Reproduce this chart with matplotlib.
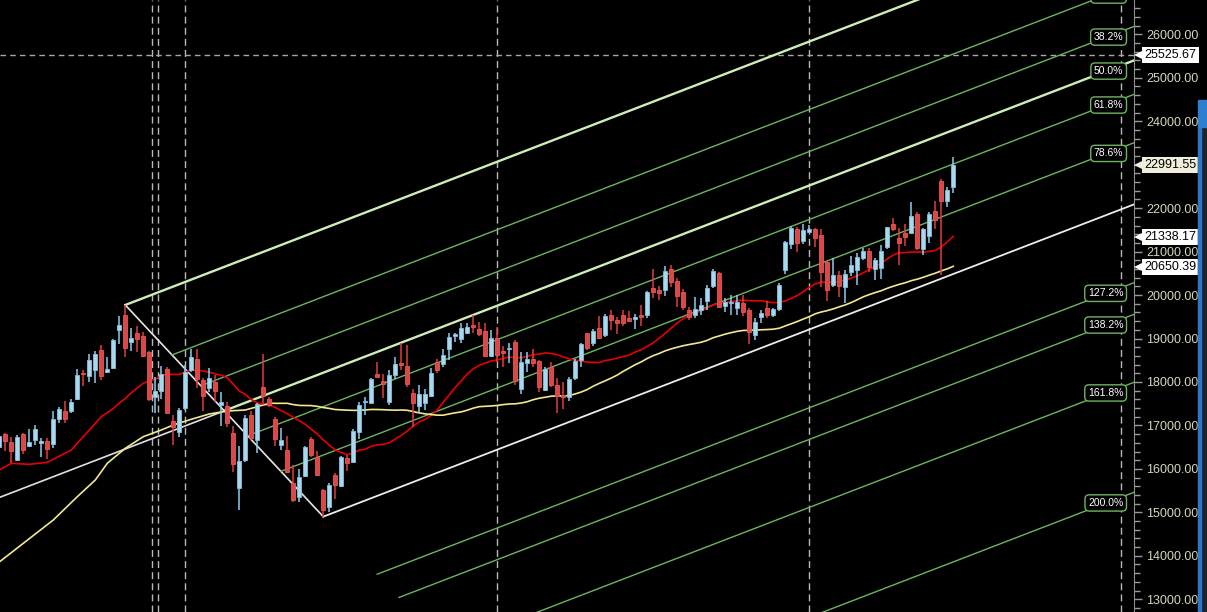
import numpy as np
import pandas as pd
import matplotlib.pyplot as plt
import matplotlib.transforms as mtrans
from matplotlib.ticker import MultipleLocator, FormatStrFormatter
from matplotlib.patches import Rectangle

plt.rcParams['font.family'] = ['Liberation Sans', 'DejaVu Sans']

# weekly OHLC (oldest first)
opens = [16496, 16803, 16611, 16204, 16803, 16527, 16665, 16603, 16642, 16573,
         17155, 17324, 17340, 17608, 18214, 18137, 18275, 18736, 18237, 18329,
         19196, 19541, 18927, 19134, 19058, 18697, 17662, 17800, 18299, 17110,
         16857, 17394, 18276, 18529, 18046, 17854, 18007, 17470, 17447, 16818,
         15568, 16205, 17240, 16665, 17892, 17601, 17148, 16550, 16434, 15667,
         15361, 15844, 16688, 16266, 15514, 15131, 15859, 15606, 16250, 16166,
         16856, 17531, 17524, 18183, 18022, 17547, 18160, 18436, 18367, 17738,
         17447, 17508, 17677, 18459, 18413, 18759, 19058, 18996, 19119, 19318,
         19219, 19165, 18605, 19004, 18712, 18751, 18912, 17846, 18444, 18528,
         18482, 17815, 18352, 17930, 17700, 17662, 18084, 18505, 19119, 18904,
         19250, 19081, 19541, 19419, 19541, 19472, 19449, 19541, 19541, 20162,
         20116, 20116, 20599, 20323, 20063, 19656, 19541, 19656, 19863, 20208,
         20515, 19756, 19809, 19710, 19809, 19656, 19081, 19503, 19694, 19541,
         19671, 20576, 21175, 21512, 21244, 21459, 21520, 21382, 20769, 20232,
         20462, 20193, 20538, 20577, 20861, 21014, 20592, 20631, 21114, 21635,
         21305, 21421, 21436, 21865, 21068, 21367, 21934, 22625, 22172, 22494]
highs = [16780, 16818, 16741, 16780, 16818, 16910, 17010, 16711, 16711, 17332,
         17416, 17562, 17616, 18291, 18275, 18643, 18720, 18851, 18567, 18996,
         19526, 19771, 19234, 19288, 19150, 18712, 18107, 18367, 18352, 17240,
         17394, 18391, 18751, 18751, 18084, 18314, 18161, 17777, 17547, 16987,
         16527, 17240, 17340, 17509, 18644, 17662, 17187, 16933, 16757, 16089,
         15990, 16534, 16741, 16412, 15529, 15667, 15898, 16296, 16320, 16910,
         17547, 17662, 18084, 18459, 18183, 18275, 18567, 18904, 18851, 17830,
         17930, 17838, 18314, 18521, 18751, 19119, 19134, 19349, 19349, 19541,
         19372, 19349, 19196, 19272, 18828, 18904, 18966, 18697, 18697, 18751,
         18505, 18352, 18467, 18084, 18007, 18122, 18536, 18904, 19134, 19211,
         19518, 19557, 19656, 19503, 19656, 19633, 19572, 19772, 20094, 20599,
         20208, 20668, 20692, 20385, 20139, 19733, 19963, 19940, 20231, 20599,
         20523, 19925, 20001, 20001, 20001, 19694, 19464, 19656, 19863, 19710,
         20270, 21244, 21589, 21574, 21627, 21612, 21540, 21520, 20790, 20845,
         20554, 20577, 20899, 20976, 21075, 21075, 20845, 21152, 21574, 21766,
         21536, 21635, 22149, 21904, 21536, 21919, 22165, 22671, 22479, 23185]
lows = [16473, 16419, 16128, 16190, 16342, 16511, 16550, 16281, 16235, 16488,
        17048, 17063, 17278, 17585, 17907, 18007, 17968, 18045, 18214, 18306,
        18874, 18582, 18712, 18697, 18567, 17570, 17294, 17600, 17279, 16550,
        16742, 17355, 18237, 17854, 17340, 17777, 17547, 16987, 16956, 15936,
        15054, 16166, 16665, 16374, 17470, 17432, 16527, 16434, 15898, 15246,
        15246, 15821, 16281, 15836, 14901, 15016, 15307, 15575, 15959, 16151,
        16680, 17240, 17508, 18107, 17623, 17470, 18061, 18275, 17876, 16971,
        17278, 17355, 17662, 18214, 18352, 18505, 18927, 18904, 19096, 19119,
        19058, 18582, 18567, 18467, 18352, 18444, 17930, 17715, 18237, 18352,
        17777, 17800, 17876, 17278, 17370, 17570, 18045, 18352, 18736, 18835,
        18989, 19043, 19196, 19104, 19296, 19373, 19219, 19296, 19465, 19925,
        19886, 19986, 20193, 19733, 19656, 19426, 19480, 19541, 19656, 20170,
        19710, 19618, 19541, 19541, 19526, 18874, 18966, 19365, 19480, 19487,
        19633, 20477, 21052, 20998, 21167, 21436, 21098, 20193, 19871, 20178,
        19963, 19825, 20439, 20232, 20807, 20538, 20347, 20362, 21052, 21474,
        20692, 21129, 21421, 21037, 20922, 21206, 21520, 20462, 22034, 22356]
closes = [16757, 16649, 16411, 16734, 16434, 16619, 16918, 16642, 16465, 17148,
          17378, 17148, 17539, 18160, 18176, 18505, 18636, 18145, 18298, 18966,
          19311, 18789, 19004, 18981, 18605, 17608, 17792, 18183, 17294, 16956,
          17355, 18237, 18567, 18061, 17685, 18084, 17800, 17539, 17048, 16105,
          16182, 17164, 16703, 17486, 17677, 17470, 16680, 16665, 15936, 15284,
          15821, 16511, 16320, 15859, 15054, 15629, 15629, 16281, 16128, 16872,
          17470, 17562, 18068, 18122, 17953, 18160, 18413, 18383, 17953, 17524,
          17723, 17723, 18199, 18275, 18620, 19027, 19081, 19242, 19272, 19272,
          19111, 18597, 19004, 18620, 18659, 18774, 18030, 18459, 18528, 18444,
          17876, 18291, 17930, 17677, 17662, 18068, 18490, 18874, 18774, 19165,
          19020, 19518, 19426, 19357, 19357, 19411, 19480, 19495, 20063, 20078,
          20055, 20553, 20308, 19986, 19733, 19503, 19671, 19771, 20155, 20553,
          19733, 19833, 19848, 19833, 19618, 19142, 19372, 19595, 19541, 19671,
          20231, 21213, 21535, 21205, 21497, 21520, 21305, 20538, 20117, 20462,
          20216, 20485, 20692, 20884, 21014, 20654, 20807, 21014, 21559, 21520,
          21190, 21344, 21819, 21091, 21520, 21858, 21727, 22172, 22418, 22992]

# moving-average values at the left edge (their history is off the chart)
red_early_idx = [0, 2, 5, 8, 12, 14, 17]
red_early_val = [15974, 16128, 16105, 16151, 16434, 16741, 17202]
yellow_early_idx = [0, 9, 13, 16, 18, 21, 24, 27, 29, 32, 35, 38, 41, 43, 45, 48]
yellow_early_val = [13858, 14824, 15360, 15744, 16129, 16474, 16741, 16895,
                    17010, 17141, 17263, 17332, 17355, 17431, 17509, 17509]

# fibonacci channel anchors (bar index, price)
anchor_idx = [21, 54, 189]
anchor_price = [19771, 14901, 22080]
fib_levels = [0, 0.236, 0.382, 0.5, 0.618, 0.786, 1.0, 1.272, 1.382, 1.618, 2.0]
fib_labels = ['0.0%', '23.6%', '38.2%', '50.0%', '61.8%', '78.6%', '100.0%',
              '127.2%', '138.2%', '161.8%', '200.0%']

vline_idx = [25.5, 26.5, 31, 83, 135, 187]   # dashed separators
hline_price = 25525.67
tag_values = [25525.67, 22991.55, 21338.17, 20650.39]
tag_colors = ['white', '#f2eedc', 'white', 'white']

o = np.array(opens, float)
h = np.array(highs, float)
l = np.array(lows, float)
c = np.array(closes, float)
n = len(c)
idx = np.arange(n)

x_lo, x_hi = 0.117, 189.12
y_lo, y_hi = 12707, 26789

fig = plt.figure(figsize=(12.07, 6.12), dpi=100, facecolor='black')
ax = fig.add_axes([0, 0, 1134 / 1207, 1])
ax.set_facecolor('black')
ax.set_xlim(x_lo, x_hi)
ax.set_ylim(y_lo, y_hi)

# separators
for v in vline_idx:
    ax.axvline(v, color='#b8b8b8', lw=1, ls=(0, (5, 3)), zorder=1)
ax.axhline(hline_price, color='#a8a8a8', lw=1, ls=(0, (4, 3)), zorder=1)

# fib channel
green = '#6db55e'
pale = '#cdeeb6'
slope = (anchor_price[2] - anchor_price[1]) / (anchor_idx[2] - anchor_idx[1])
ax.plot(anchor_idx[:2], anchor_price[:2], color='#e6e6e6', lw=1.2, zorder=2)
for f, lab in zip(fib_levels, fib_labels):
    xs = anchor_idx[0] + f * (anchor_idx[1] - anchor_idx[0])
    ys = anchor_price[0] + f * (anchor_price[1] - anchor_price[0])
    ye = ys + slope * (x_hi - xs)
    if f == 1.0:
        col, lw = '#ececec', 1.3
    elif f in (0, 0.5):
        col, lw = pale, 1.7
    else:
        col, lw = green, 1.0
    ax.plot([xs, x_hi], [ys, ye], color=col, lw=lw, zorder=2)
    if f == 0.5:
        ax.plot([x_lo, xs], [ys - slope * (xs - x_lo), ys], color='#e0e0e0',
                lw=1.2, zorder=2)
    if f not in (0, 1.0):
        ax.text(187.35, ye - 245, lab, color='white', fontsize=7.5,
                ha='right', va='center', zorder=8,
                bbox=dict(boxstyle='round,pad=0.3,rounding_size=0.4',
                          fc='black', ec=green, lw=1))

# moving averages
sma20 = pd.Series(c).rolling(20).mean().to_numpy()
sma50 = pd.Series(c).rolling(50).mean().to_numpy()
ax.plot(red_early_idx + list(idx[19:]), red_early_val + list(sma20[19:]),
        color='#e80000', lw=1.2, zorder=3)
ax.plot(yellow_early_idx + list(idx[49:]), yellow_early_val + list(sma50[49:]),
        color='#f3e88e', lw=1.2, zorder=3)

# candles
up = c >= o
blue_body, blue_edge, blue_wick = '#abd7ec', '#86c0de', '#8ccdf2'
red_body, red_edge, red_wick = '#d84848', '#ec5555', '#e63c3c'
wick_cols = np.where(up, blue_wick, red_wick)
ax.vlines(idx, l, h, colors=wick_cols, lw=1.1, zorder=4)
body_lo = np.minimum(o, c)
body_h = np.maximum(np.abs(c - o), 35)
ax.bar(idx[up], body_h[up], bottom=body_lo[up], width=0.62,
       color=blue_body, edgecolor=blue_edge, lw=0.6, zorder=5)
ax.bar(idx[~up], body_h[~up], bottom=body_lo[~up], width=0.62,
       color=red_body, edgecolor=red_edge, lw=0.6, zorder=5)

# price axis on the right
for s in ['left', 'top', 'bottom']:
    ax.spines[s].set_visible(False)
ax.spines['right'].set_color('#8e8e8e')
ax.set_xticks([])
ax.yaxis.tick_right()
ax.yaxis.set_major_locator(MultipleLocator(1000))
ax.yaxis.set_minor_locator(MultipleLocator(200))
ax.yaxis.set_major_formatter(FormatStrFormatter('%.2f'))
ax.tick_params(axis='y', which='major', direction='out', length=6, width=1,
               color='#9a9a9a', labelcolor='#d6d6bc', labelsize=9, pad=3)
ax.tick_params(axis='y', which='minor', direction='out', length=4, width=1,
               color='#9a9a9a')

# price tags: small pointer + box
tag_tr = mtrans.blended_transform_factory(ax.transAxes, ax.transData)
for val, col in zip(tag_values, tag_colors):
    ax.plot([1 + 4.5 / 1134], [val], marker='<', ms=7.5, mew=0, color=col,
            transform=tag_tr, clip_on=False, zorder=9)
    ax.annotate(f'{val:.2f}', xy=(1, val), xycoords=tag_tr,
                xytext=(7.4, 0), textcoords='offset points', ha='left',
                va='center', fontsize=9, color='black', annotation_clip=False,
                zorder=10,
                bbox=dict(boxstyle='square,pad=0.18', fc=col, ec='none'))

# scroll strip at the right edge
fig.patches.append(Rectangle((1198 / 1207, 0), 9 / 1207, 485 / 612,
                             transform=fig.transFigure, color='#1c2430'))
fig.patches.append(Rectangle((1198 / 1207, 0), 2.5 / 1207, 485 / 612,
                             transform=fig.transFigure, color='#2f76c4'))
fig.patches.append(Rectangle((1198 / 1207, 485 / 612), 9 / 1207, 27 / 612,
                             transform=fig.transFigure, color='#2f7fd0'))

fig.savefig('out.png', dpi=100, facecolor='black')
